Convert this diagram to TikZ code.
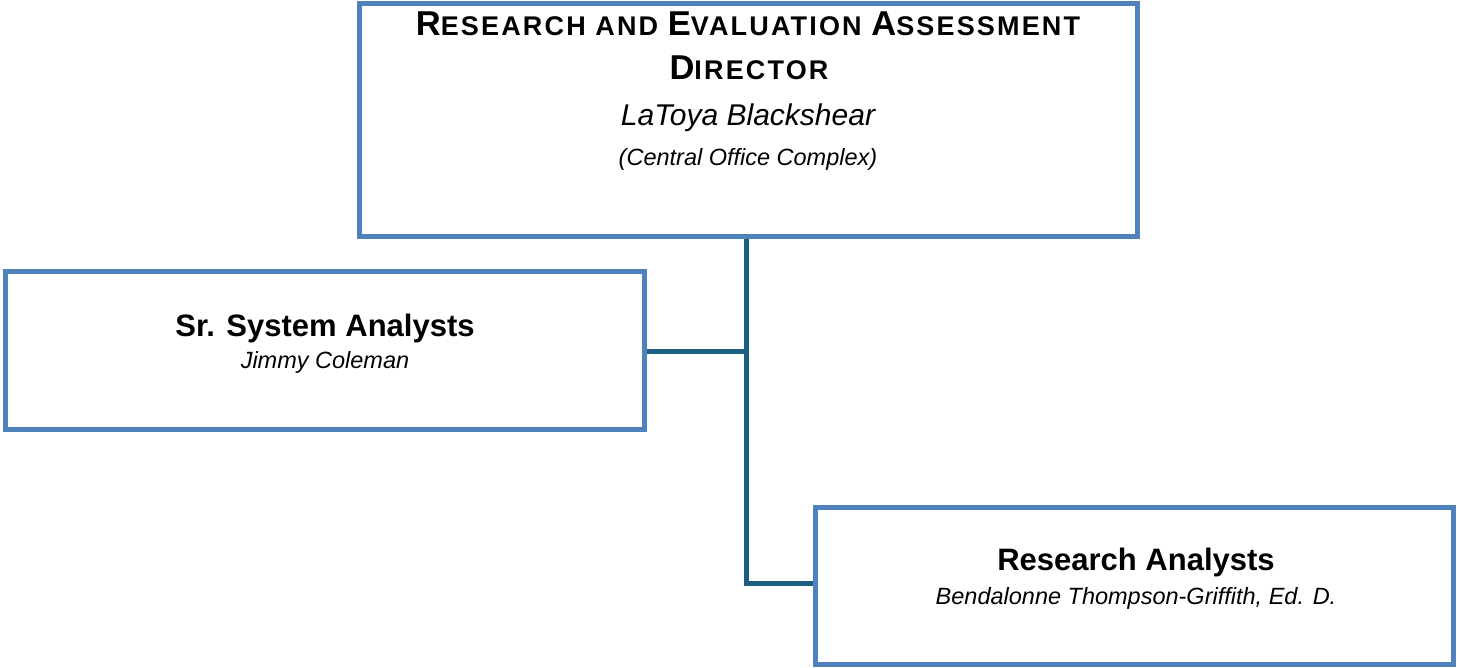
\documentclass[tikz,border=0pt]{standalone}
\usepackage{fontspec}
\setmainfont{Liberation Sans}
\definecolor{boxblue}{HTML}{4F81BD}
\definecolor{connteal}{HTML}{1B5E80}
\newcommand{\bigsz}{\fontsize{31}{36}\selectfont}
\newcommand{\tbig}{\fontsize{34.5}{40}\selectfont}
\newcommand{\tsc}{\fontsize{27}{30}\selectfont}
\newcommand{\subsz}{\fontsize{23.5}{28}\selectfont}
\begin{document}
\begin{tikzpicture}[x=1pt,y=-1pt,
  orgbox/.style={draw=boxblue,line width=5pt,rectangle,inner sep=0pt,fill=white},
  conn/.style={draw=connteal,line width=5pt},
  txt/.style={anchor=base,inner sep=0pt,text=black}]
\useasboundingbox (0,0) rectangle (1457,667);
% boxes
\node[orgbox,minimum width=778.5pt,minimum height=233pt] (top) at (748.25,120) {};
\node[orgbox,minimum width=639.5pt,minimum height=158pt] (left) at (324.75,350) {};
\node[orgbox,minimum width=638.5pt,minimum height=157pt] (right) at (1134.25,586) {};
% connectors
\coordinate (j1) at (746.5,351);
\coordinate (j2) at (746.5,583);
\draw[conn] (top.south -| j1) -- (j2) -- (j2 -| right.west);
\draw[conn] (left.east |- j1) -- (j1);
% texts
\node[txt] (t1) at (748,35) {\bfseries\addfontfeature{LetterSpace=8}\tbig R\tsc ESEARCH AND \tbig E\tsc VALUATION \tbig A\tsc SSESSMENT};
\node[txt] (t2) at (749,79.5) {\bfseries\addfontfeature{LetterSpace=8}\tbig D\tsc IRECTOR};
\node[txt] (t3) at (748,125) {\itshape\fontsize{30}{34}\selectfont LaToya Blackshear};
\node[txt] (t4) at (748,165) {\itshape\subsz (Central Office Complex)};
\node[txt] (l1) at (325,336) {\bfseries\bigsz Sr. System Analysts};
\node[txt] (l2) at (325,368) {\itshape\subsz Jimmy Coleman};
\node[txt] (r1) at (1136,570) {\bfseries\bigsz Research Analysts};
\node[txt] (r2) at (1136,604) {\itshape\subsz Bendalonne Thompson-Griffith, Ed. D.};
\end{tikzpicture}
\end{document}
